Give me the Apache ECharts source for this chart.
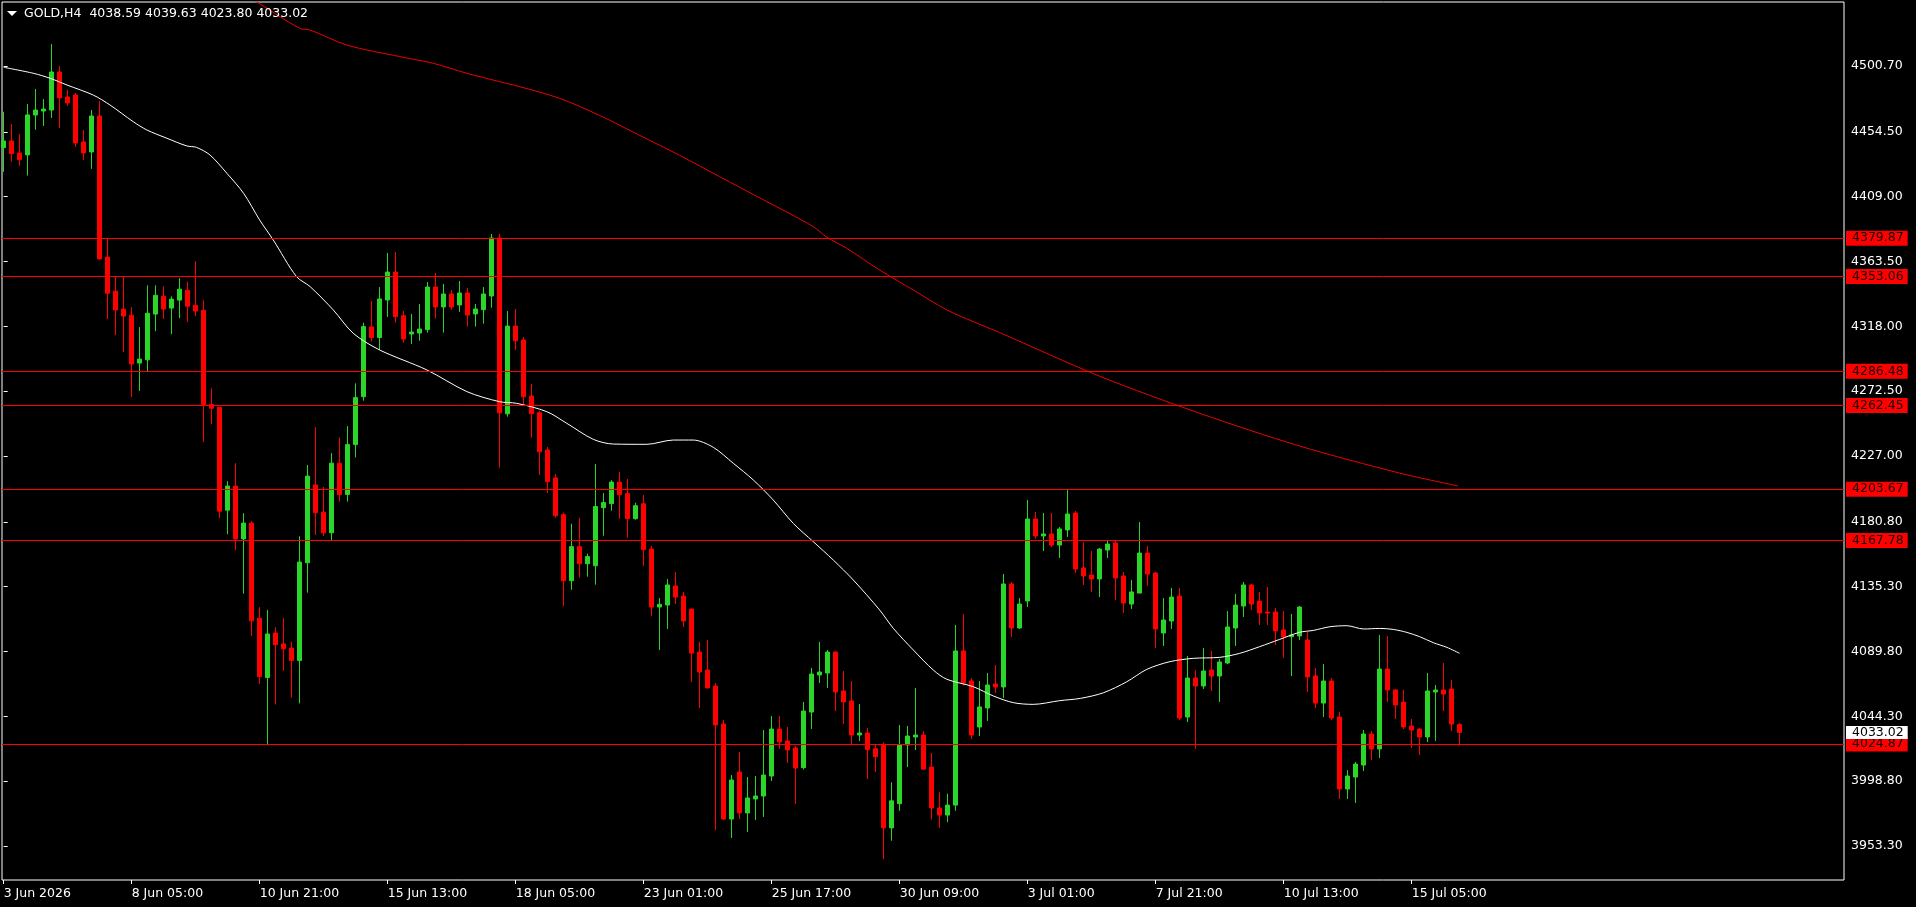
<!DOCTYPE html>
<html>
<head>
<meta charset="utf-8">
<title>GOLD,H4</title>
<script src="https://cdn.jsdelivr.net/npm/echarts@6/dist/echarts.min.js"></script>
<style>
html, body { margin: 0; padding: 0; background: #000; }
#chart { width: 1916px; height: 907px; }
</style>
</head>
<body>
<div id="chart"></div>
<script>
// H4 bars [open, high, low, close], bar 0 = 3 Jun 2026 13:00
var bars = [
  [4443.4,4468.6,4426.5,4448.1],[4448.1,4460.0,4433.6,4439.2],[4439.7,4453.0,4430.8,4435.0],[4438.3,4474.1,4423.8,4466.4],
  [4466.3,4484.6,4456.0,4469.8],[4469.1,4477.5,4458.6,4470.5],[4469.8,4516.1,4464.2,4496.5],[4496.5,4500.7,4457.2,4478.3],
  [4479.0,4483.9,4472.6,4474.8],[4480.4,4481.8,4443.9,4446.7],[4447.4,4455.8,4434.8,4439.7],[4440.4,4469.8,4428.5,4465.6],
  [4465.6,4476.2,4365.0,4365.3],[4366.6,4380.0,4323.1,4341.2],[4342.7,4353.4,4311.8,4329.5],[4330.1,4353.4,4300.0,4325.2],
  [4325.8,4331.4,4268.4,4291.6],[4292.2,4317.5,4272.7,4295.0],[4294.5,4346.8,4286.0,4327.2],[4326.6,4346.8,4314.6,4339.8],
  [4339.1,4346.1,4323.1,4330.1],[4330.8,4339.0,4312.5,4337.1],[4336.4,4351.8,4323.7,4344.1],[4343.4,4349.3,4321.0,4332.1],
  [4332.8,4363.7,4325.1,4328.7],[4329.3,4336.3,4236.8,4263.2],[4263.2,4274.5,4249.4,4260.5],[4261.2,4261.5,4183.5,4188.3],
  [4189.0,4209.3,4172.1,4205.9],[4205.9,4221.9,4161.0,4168.8],[4168.8,4186.9,4130.4,4179.9],[4179.9,4181.3,4100.7,4111.3],
  [4113.2,4120.9,4067.1,4072.2],[4071.5,4119.0,4023.9,4102.1],[4102.8,4106.9,4052.6,4094.6],[4095.1,4113.2,4076.3,4091.7],
  [4092.2,4096.6,4057.5,4083.5],[4083.5,4170.7,4053.4,4152.6],[4152.1,4220.7,4131.1,4212.9],[4206.7,4247.2,4171.6,4187.1],
  [4187.6,4205.2,4170.9,4173.1],[4173.1,4229.0,4168.0,4222.0],[4222.0,4240.0,4195.0,4200.0],[4200.0,4248.0,4195.0,4235.0],
  [4235.0,4278.0,4226.0,4268.0],[4268.6,4320.6,4265.8,4317.8],[4317.6,4335.8,4307.3,4310.1],[4310.1,4345.6,4301.4,4337.2],
  [4336.5,4369.5,4324.6,4356.1],[4356.1,4370.2,4320.6,4324.8],[4325.5,4328.8,4306.5,4309.1],[4312.6,4326.7,4305.6,4314.0],
  [4313.3,4333.7,4307.9,4316.1],[4315.7,4349.1,4313.6,4345.6],[4345.6,4355.4,4323.4,4331.6],[4331.6,4347.7,4313.6,4340.7],
  [4340.7,4343.5,4329.7,4331.6],[4333.0,4349.8,4328.1,4341.4],[4341.4,4344.9,4317.8,4325.9],[4326.7,4333.7,4317.8,4330.2],
  [4329.7,4345.6,4319.9,4340.7],[4339.3,4382.8,4331.1,4380.0],[4380.0,4382.8,4218.8,4257.3],[4256.6,4328.8,4254.6,4318.2],
  [4318.2,4330.2,4301.6,4307.9],[4308.4,4310.5,4263.0,4268.6],[4269.1,4277.5,4239.9,4256.7],[4257.4,4258.8,4213.7,4230.0],
  [4231.2,4233.3,4201.0,4209.0],[4211.6,4214.4,4183.7,4185.1],[4185.8,4187.2,4121.7,4139.5],[4139.5,4179.5,4133.1,4163.4],
  [4163.4,4183.7,4141.6,4151.4],[4151.4,4158.5,4142.3,4156.4],[4150.0,4221.4,4136.7,4191.5],[4190.7,4201.0,4171.1,4194.3],
  [4193.6,4210.1,4188.6,4208.7],[4208.7,4215.8,4183.0,4199.9],[4200.6,4210.9,4169.7,4183.0],[4183.0,4194.2,4182.3,4192.1],
  [4193.5,4199.6,4150.0,4161.3],[4161.7,4163.8,4115.0,4121.0],[4121.0,4127.3,4090.9,4122.9],[4122.4,4140.7,4105.6,4136.5],
  [4135.8,4145.6,4123.1,4128.0],[4128.7,4131.6,4107.0,4111.2],[4119.6,4119.6,4068.4,4088.7],[4089.4,4096.5,4050.1,4075.4],
  [4076.8,4097.9,4064.0,4064.2],[4065.6,4067.7,3964.5,4038.2],[4038.9,4041.7,3971.8,3972.2],[3972.2,4003.1,3958.9,3999.6],
  [4005.2,4019.3,3972.2,3976.5],[3976.5,4001.7,3963.1,3987.0],[3986.3,4002.4,3971.6,3988.4],[3988.4,4034.7,3973.7,4003.1],
  [4002.4,4044.5,3998.9,4035.4],[4035.4,4044.5,4021.4,4026.3],[4027.0,4036.8,4011.6,4020.7],[4022.1,4023.5,3982.8,4008.0],
  [4008.3,4054.4,4006.9,4048.0],[4047.3,4078.2,4035.4,4074.0],[4073.3,4096.5,4067.7,4075.4],[4074.7,4090.9,4064.2,4089.4],
  [4089.4,4090.0,4048.0,4061.4],[4062.1,4076.1,4038.9,4054.4],[4055.1,4069.1,4024.2,4031.2],[4031.2,4052.9,4027.0,4032.6],
  [4032.6,4036.1,4000.3,4020.9],[4021.6,4024.9,4005.2,4016.0],[4024.2,4026.0,3944.0,3966.0],[3966.0,3998.0,3957.0,3985.0],
  [3983.0,4038.2,3978.0,4024.2],[4024.2,4037.5,4008.7,4030.5],[4029.8,4064.2,4020.7,4031.2],[4031.2,4034.0,4006.6,4007.3],
  [4008.7,4018.6,3972.0,3980.0],[3980.0,3991.0,3966.0,3975.0],[3975.0,3990.0,3970.0,3982.0],[3982.0,4108.4,3978.0,4090.2],
  [4090.2,4116.1,4066.0,4067.7],[4069.1,4071.2,4028.4,4031.2],[4036.8,4069.1,4030.5,4050.9],[4050.2,4074.7,4041.0,4066.3],
  [4067.0,4080.3,4060.7,4064.9],[4064.9,4144.2,4057.2,4137.2],[4137.2,4138.6,4100.0,4106.3],[4106.3,4127.3,4105.6,4123.1],
  [4125.2,4196.1,4121.0,4182.8],[4182.8,4187.7,4168.8,4170.9],[4170.9,4187.0,4160.3,4172.3],[4172.3,4187.0,4163.1,4164.5],
  [4164.5,4177.2,4155.4,4175.8],[4175.1,4203.8,4170.2,4186.3],[4187.0,4188.4,4144.9,4147.7],[4148.4,4166.6,4136.5,4142.8],
  [4143.5,4160.3,4131.6,4140.7],[4140.7,4162.4,4128.0,4161.7],[4161.0,4168.0,4155.4,4165.2],[4165.9,4168.0,4125.9,4141.4],
  [4142.8,4145.6,4116.8,4123.8],[4123.1,4140.0,4119.6,4131.6],[4130.8,4180.7,4130.8,4158.9],[4158.9,4163.8,4135.8,4144.2],
  [4144.9,4145.6,4092.3,4105.6],[4102.8,4127.3,4093.7,4111.9],[4111.2,4134.4,4105.6,4128.0],[4128.7,4134.4,4041.7,4043.1],
  [4043.8,4086.6,4040.3,4071.2],[4071.2,4076.8,4021.4,4065.6],[4065.6,4092.3,4063.5,4076.1],[4076.8,4090.2,4062.1,4072.6],
  [4072.6,4084.5,4054.4,4082.4],[4081.7,4118.2,4081.0,4107.0],[4106.3,4130.2,4093.7,4122.4],[4121.7,4138.6,4114.0,4136.5],
  [4136.5,4137.2,4118.9,4123.1],[4125.2,4131.6,4108.4,4116.8],[4117.5,4135.1,4108.4,4116.8],[4117.5,4120.3,4094.4,4104.2],
  [4104.9,4118.2,4085.2,4100.0],[4100.2,4116.1,4072.6,4101.4],[4100.7,4121.7,4097.9,4121.0],[4097.9,4103.5,4061.4,4071.9],
  [4072.6,4078.2,4050.1,4053.6],[4053.6,4081.0,4043.8,4069.1],[4069.1,4071.2,4041.7,4043.1],[4043.8,4047.3,3986.3,3993.3],
  [3993.3,4006.6,3986.3,4002.4],[4001.7,4012.2,3983.5,4010.8],[4010.1,4034.7,4005.9,4031.9],[4031.9,4034.0,4013.6,4021.4],
  [4021.4,4101.4,4015.0,4077.5],[4077.5,4100.7,4054.3,4062.8],[4062.8,4063.5,4042.4,4052.2],[4054.3,4062.8,4035.4,4036.8],
  [4037.5,4042.4,4022.1,4034.7],[4035.4,4036.1,4017.1,4029.8],[4029.8,4074.7,4026.3,4062.1],[4061.4,4066.3,4027.0,4062.8],
  [4062.8,4081.7,4048.0,4059.9],[4063.5,4069.8,4033.9,4038.9],[4038.59,4039.63,4023.80,4033.02]
];

// moving averages: [bar index, price]
var maFast = [
  [0,4499.8],[3.7,4495.6],[5.8,4492.1],[7.9,4487.4],[11.2,4480.3],[13.3,4473.3],[16.2,4461.6],[17.9,4455.8],
  [20.4,4450.0],[22.9,4444.6],[24.1,4443.6],[25.8,4438.2],[27.9,4425.4],[30,4411.3],[32,4392.6],[33.7,4378.6],
  [36.6,4352.9],[38.3,4345.9],[41.2,4329.5],[43.7,4313.1],[47,4301.4],[52.9,4287.4],[57.9,4272.2],[62,4265.1],
  [64.1,4264.0],[67.9,4258.1],[70.4,4249.9],[73.7,4238.7],[76.2,4235.4],[80.4,4235.2],[83.7,4238.2],[86.2,4238.2],
  [88.7,4233.1],[91.2,4221.9],[93.7,4210.2],[96.2,4196.1],[98.7,4179.7],[101.2,4166.9],[103.7,4154.0],[106.2,4140.0],
  [109.5,4118.9],[111.2,4106.1],[113.7,4090.9],[116.2,4076.8],[117.9,4070.3],[121.2,4065.1],[123.7,4058.6],[126.2,4053.9],
  [128.7,4052.7],[132,4055.3],[134.6,4056.9],[137.5,4060.9],[140.4,4068.6],[142.9,4077.3],[145.8,4082.7],[148.7,4085.0],
  [152,4085.7],[154.5,4088.5],[157,4093.2],[159.5,4098.3],[162,4103.3],[163.7,4104.6],[165.8,4107.2],[167.9,4107.9],
  [170,4105.6],[172,4106.0],[173.7,4105.3],[175.4,4103.2],[177,4100.2],[178.7,4096.0],[180.4,4092.7],[182,4088.5]
];
var maSlow = [
  [28,4558.0],[31.8,4545.1],[37,4527.1],[38.3,4526.0],[42.9,4515.4],[49.5,4507.3],[53.7,4502.6],[57.9,4495.6],
  [62,4489.7],[64.5,4486.2],[69.5,4478.0],[74.5,4466.0],[79.5,4452.0],[84.5,4438.0],[89.5,4423.0],[95,4406.7],
  [101.2,4388.0],[102.9,4380.5],[105.4,4372.7],[109.5,4357.5],[113.7,4343.5],[117.9,4329.5],[121.2,4321.3],[124.5,4313.6],
  [137,4283.0],[149.5,4257.0],[162,4234.0],[174.5,4215.0],[181.8,4206.0]
];

var levels = [4379.87, 4353.06, 4286.48, 4262.45, 4203.67, 4167.78, 4024.87];
var lastPrice = 4033.02;
var priceTicks = [4500.70, 4454.50, 4409.00, 4363.50, 4318.00, 4272.50, 4227.00, 4180.80, 4135.30, 4089.80, 4044.30, 3998.80, 3953.30];
var timeTicks = [0, 16, 32, 48, 64, 80, 96, 112, 128, 144, 160, 176];
var timeLabels = ['3 Jun 2026', '8 Jun 05:00', '10 Jun 21:00', '15 Jun 13:00', '18 Jun 05:00', '23 Jun 01:00',
  '25 Jun 17:00', '30 Jun 09:00', '3 Jul 01:00', '7 Jul 21:00', '10 Jul 13:00', '15 Jul 05:00'];
var header = 'GOLD,H4  4038.59 4039.63 4023.80 4033.02';

var font = 'DejaVu Sans';
var up = '#2bd62b', down = '#ff0000';

var chart = echarts.init(document.getElementById('chart'));

var lineData = levels.map(function (v) { return { yAxis: v }; });
lineData.push({
  yAxis: lastPrice,
  lineStyle: { color: 'rgba(0,0,0,0)' },
  label: { backgroundColor: '#ffffff', color: '#000', padding: [0, 4, 0, 6] }
});

var option = {
  backgroundColor: '#000',
  animation: false,
  title: {
    text: header, left: 24, top: 7, padding: 0,
    textStyle: { color: '#fff', fontFamily: font, fontSize: 12.5, fontWeight: 'normal' }
  },
  graphic: [{
    type: 'polygon', shape: { points: [[7, 11], [17, 11], [12, 16]] }, style: { fill: '#fff' }
  }],
  grid: { left: 2, top: 2, right: 72, bottom: 27, show: true, borderColor: '#fff', borderWidth: 1, backgroundColor: '#000' },
  xAxis: {
    type: 'value', min: -0.209, max: 230.04,
    axisLine: { show: false }, splitLine: { show: false },
    axisTick: { show: true, length: 4, lineStyle: { color: '#fff' }, customValues: timeTicks },
    axisLabel: {
      customValues: timeTicks, align: 'left', margin: 7, color: '#fff', fontFamily: font, fontSize: 12.5,
      formatter: function (v) { return timeLabels[timeTicks.indexOf(Math.round(v))]; }
    }
  },
  yAxis: {
    type: 'value', position: 'right', min: 3929.44, max: 4545.62, scale: true,
    axisLine: { show: false }, splitLine: { show: false },
    axisTick: { show: true, length: 4, lineStyle: { color: '#fff' }, customValues: priceTicks },
    axisLabel: {
      customValues: priceTicks, margin: 7, color: '#fff', fontFamily: font, fontSize: 12.5,
      formatter: function (v) { return v.toFixed(2); }
    }
  },
  series: [
    {
      type: 'candlestick',
      data: bars.map(function (b, i) { return [i, b[0], b[3], b[2], b[1]]; }),
      encode: { x: 0, y: [1, 2, 3, 4] },
      barWidth: 4,
      itemStyle: { color: up, color0: down, borderColor: up, borderColor0: down, borderWidth: 1 },
      markLine: {
        symbol: 'none', silent: true, animation: false,
        lineStyle: { color: '#ff0000', width: 1, type: 'solid' },
        label: {
          show: true, position: 'end', distance: 2,
          formatter: function (p) { return p.value.toFixed(2); },
          backgroundColor: '#ff0000', color: '#1a0000', fontFamily: font, fontSize: 12.5,
          padding: [1, 4, 1, 6]
        },
        data: lineData
      }
    },
    {
      type: 'line', data: maFast, showSymbol: false, smooth: 0.3, silent: true,
      lineStyle: { color: '#ffffff', width: 1 }, z: 3
    },
    {
      type: 'line', data: maSlow, showSymbol: false, smooth: 0.3, silent: true,
      lineStyle: { color: '#ee0000', width: 1 }, z: 3
    }
  ]
};

chart.setOption(option);
</script>
</body>
</html>
